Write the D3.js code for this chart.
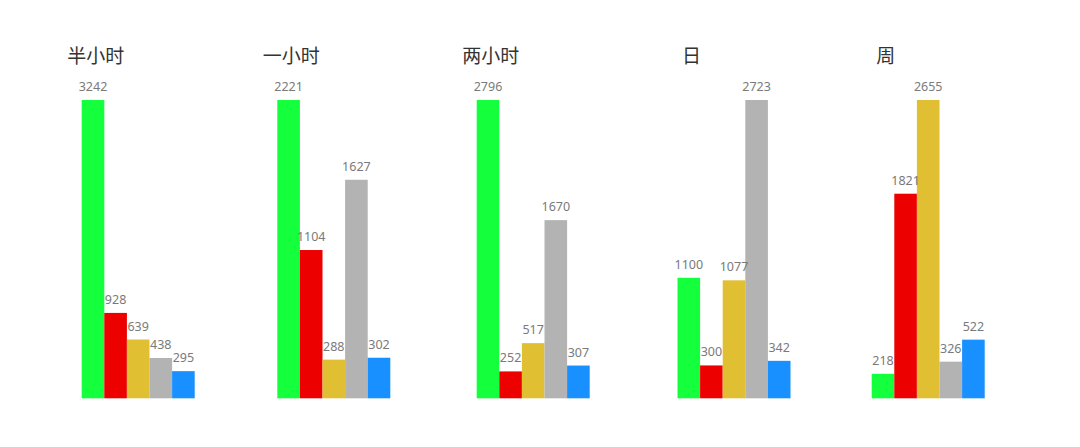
<!DOCTYPE html>
<html>
<head>
<meta charset="utf-8">
<script src="https://cdn.jsdelivr.net/npm/d3@7"></script>
<style>
  body { margin: 0; background: #fff; }
  svg { display: block; font-family: "Noto Sans", "Noto Sans CJK SC", sans-serif; }
</style>
</head>
<body>
<svg id="chart"></svg>
<script>
const periods = ["半小时", "一小时", "两小时", "日", "周"];
const seriesNames = ["s1", "s2", "s3", "s4", "s5"];
const halfHour = [3242, 928, 639, 438, 295];
const oneHour = [2221, 1104, 288, 1627, 302];
const twoHours = [2796, 252, 517, 1670, 307];
const day = [1100, 300, 1077, 2723, 342];
const week = [218, 1821, 2655, 326, 522];
const panelValues = [halfHour, oneHour, twoHours, day, week];

const colors = ["#14ff3c", "#ec0000", "#e0bf33", "#b3b3b3", "#1890ff"];

// layout
const W = 1080, H = 447;
const panelLeft = [81.7, 277.3, 476.7, 677.5, 871.7];
const barWidth = 22.6;
const plotTop = 100, plotBottom = 398.3;
const titleY = 63;

const svg = d3.select("#chart").attr("width", W).attr("height", H);

const xInner = d3.scaleBand()
  .domain(seriesNames)
  .range([0, barWidth * seriesNames.length])
  .padding(0);

periods.forEach((name, p) => {
  const values = panelValues[p];
  const y = d3.scaleLinear()
    .domain([0, d3.max(values)])
    .range([plotBottom, plotTop]);

  const g = svg.append("g")
    .attr("transform", `translate(${panelLeft[p]},0)`);

  g.append("text")
    .attr("x", 14)
    .attr("y", titleY)
    .attr("text-anchor", "middle")
    .attr("font-size", 19)
    .attr("fill", "#333")
    .text(name);

  const rows = values.map((v, i) => ({ key: seriesNames[i], value: v, color: colors[i] }));

  g.selectAll("rect")
    .data(rows)
    .join("rect")
    .attr("x", d => xInner(d.key))
    .attr("y", d => y(d.value))
    .attr("width", xInner.bandwidth())
    .attr("height", d => plotBottom - y(d.value))
    .attr("fill", d => d.color);

  g.selectAll(".val")
    .data(rows)
    .join("text")
    .attr("class", "val")
    .attr("x", d => xInner(d.key) + xInner.bandwidth() / 2)
    .attr("y", d => y(d.value) - 9)
    .attr("text-anchor", "middle")
    .attr("font-size", 12.5)
    .attr("fill", "#7a7a7a")
    .text(d => d.value);
});
</script>
</body>
</html>
